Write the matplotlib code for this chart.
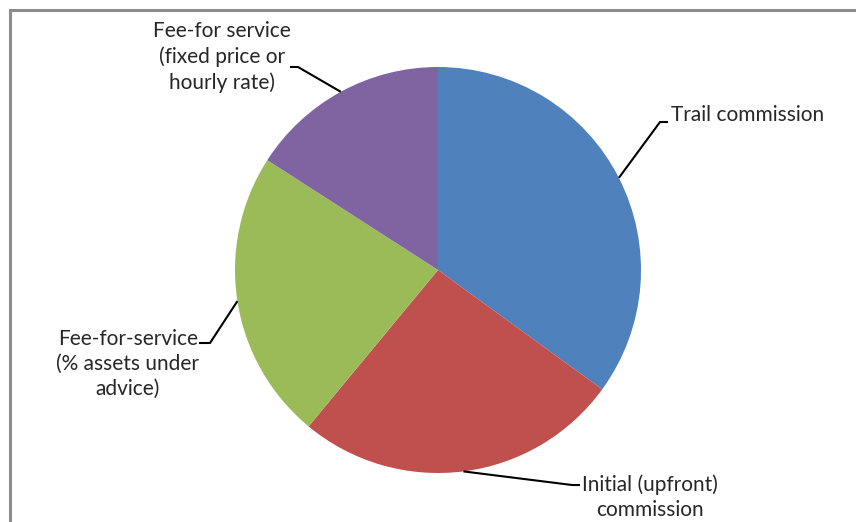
import numpy as np
import matplotlib.pyplot as plt
from matplotlib.lines import Line2D

# data
labels = ['Trail commission', 'Initial (upfront)\ncommission',
          'Fee-for-service\n(% assets under\nadvice)',
          'Fee-for service\n(fixed price or\nhourly rate)']
shares = [35.0, 26.0, 23.1, 15.9]
colors = ['#4F81BD', '#C0504D', '#9BBB59', '#8064A2']

W, H = 856, 522
cx, cy, R = 438, H - 270, 203

# label layout (pixel coords, y from top): text pos, alignment, elbow, end of leader
text_pos = [(671, 115), (650, 497), (128, 364), (222, 57)]
text_ha = ['left', 'center', 'center', 'center']
elbows = [((660, 122), (668, 122)), ((572, 485), (580, 485)),
          ((210, 343), (199, 343)), ((298, 67), (290, 67))]

fig = plt.figure(figsize=(W / 100, H / 100), dpi=100)
ax = fig.add_axes([0, 0, 1, 1])

wedges, _ = ax.pie(shares, colors=colors, startangle=90, counterclock=False,
                   center=(cx, cy), radius=R, frame=True,
                   wedgeprops=dict(linewidth=0))

for w, lab, tp, ha, (el, en) in zip(wedges, labels, text_pos, text_ha, elbows):
    mid = np.deg2rad((w.theta1 + w.theta2) / 2)
    x0 = cx + R * np.cos(mid)
    y0 = cy + R * np.sin(mid)
    ax.plot([x0, el[0], en[0]], [y0, H - el[1], H - en[1]],
            color='black', lw=1.5, solid_capstyle='butt')
    ax.text(tp[0], H - tp[1], lab, ha=ha, va='center', fontsize=15,
            family='Lato', color='#262626', linespacing=1.32)

# outer chart frame (cut off at right and bottom)
fig.add_artist(Line2D([10 / W, 10 / W], [0, 1 - 10 / H], color='#8c8c8c', lw=2.2))
fig.add_artist(Line2D([10 / W, 1], [1 - 10 / H, 1 - 10 / H], color='#8c8c8c', lw=2.2))

ax.set_xlim(0, W)
ax.set_ylim(0, H)
ax.set_aspect('equal')
ax.axis('off')

fig.savefig('out.png', dpi=100)
